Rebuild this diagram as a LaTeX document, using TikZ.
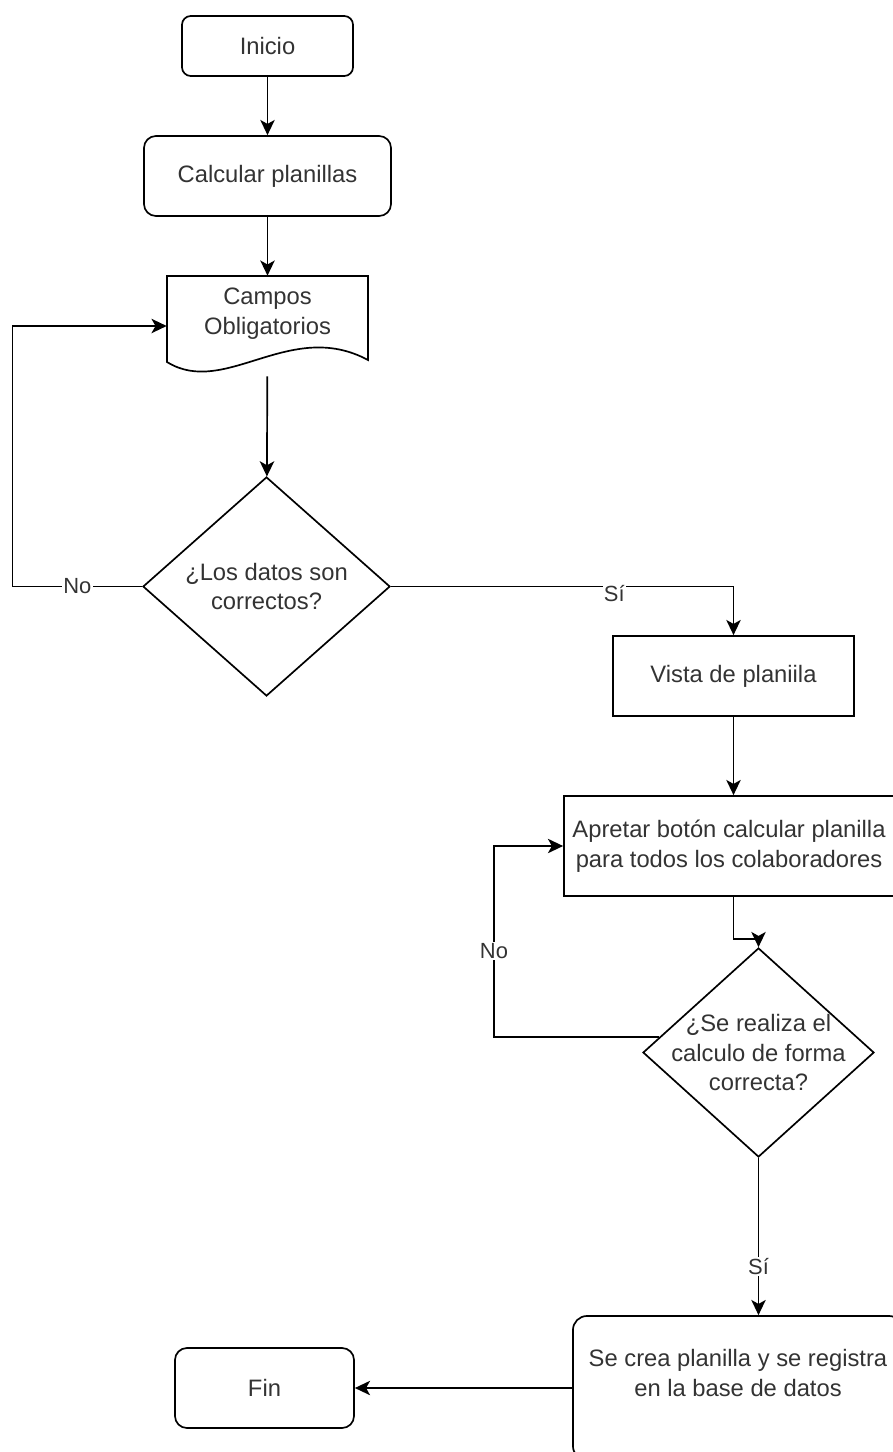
\documentclass[tikz,border=0pt]{standalone}
\usepackage{fontspec}
\setmainfont{Liberation Sans}
\usetikzlibrary{shapes.geometric,arrows.meta}

\begin{document}
\begin{tikzpicture}[x=.025cm,y=-.025cm,
	caja/.style={draw,line width=1.2pt,inner sep=0pt,text=black!80,align=center,font=\fontsize{16.9}{21.3}\selectfont},
	redond/.style={caja,rounded corners=#1},
	rombo/.style={draw,line width=1.2pt,diamond,inner sep=0pt},
	texto/.style={text=black!80,align=center,font=\fontsize{16.9}{21.3}\selectfont},
	etiq/.style={fill=white,inner sep=1pt,text=black!80,font=\fontsize{15.6}{18}\selectfont},
	flecha/.style={line width=1.2pt,-{Stealth[length=.38cm,width=.36cm,inset=.1cm]}},
	linea/.style={line width=1.2pt,line join=miter}]
			\useasboundingbox(0,0)rectangle(893,1452);%marco
			\node[redond=.22cm,minimum width=4.275cm,minimum height=1.5cm](inicio)at(267.5,46){Inicio};
			\node[redond=.3cm,minimum width=6.175cm,minimum height=2cm](calc)at(267.5,176){Calcular planillas};
			\node[texto,inner sep=0pt,minimum width=5.025cm,minimum height=2.5cm](campos)at(267.5,326){Campos\\Obligatorios\\\mbox{}};
			\draw[linea](267.5,276)--(368,276)--(368,360)..controls(290,318)and(225,398)..(167,362)--(167,276)--cycle;%documento
			\node[rombo,minimum width=6.175cm,minimum height=5.475cm](dec1)at(266.5,586.5){};
			\node[texto](dec1t)at(dec1){¿Los datos son\\correctos?};
			\node[caja,minimum width=6.025cm,minimum height=2cm](vista)at(733.5,676){Vista de planiila};
			\node[caja,minimum width=8.25cm,minimum height=2.5cm](apretar)at(729,846){Apretar botón calcular planilla\\para todos los colaboradores};
			\node[rombo,minimum width=5.775cm,minimum height=5.225cm](dec2)at(758.5,1052.5){};
			\node[texto](dec2t)at(dec2){¿Se realiza el\\calculo de forma\\correcta?};
			\node[redond=.35cm,minimum width=8.25cm,minimum height=3.6cm](crea)at(738,1388){Se crea planilla y se registra\\en la base de datos\\\mbox{}};
			\node[redond=.3cm,minimum width=4.475cm,minimum height=2cm](fin)at(264.5,1388){Fin};
			\foreach \a/\b in{inicio/calc,calc/campos,campos/dec1,crea/fin} \draw[flecha](\a)--(\b);
			\draw[flecha](dec1.west)--node[etiq]{No}++(-129.5,0)|-(campos.west);%vuelve a campos
			\draw[flecha](dec1.east)-|node[etiq,pos=.326,yshift=-.18cm]{Sí}(vista.north);
			\draw[flecha](vista.south)--(vista.south|-apretar.north);
			\draw[flecha](vista.south|-apretar.south)--++(0,42)-|(dec2.north);
			\draw[flecha](dec2.171)--++(-165.5,0)|-node[etiq,pos=.225]{No}(apretar.west);%repetir calculo
			\draw[flecha](dec2.south)--node[etiq,pos=.69]{Sí}(dec2.south|-crea.north);
		\end{tikzpicture}
\end{document}
